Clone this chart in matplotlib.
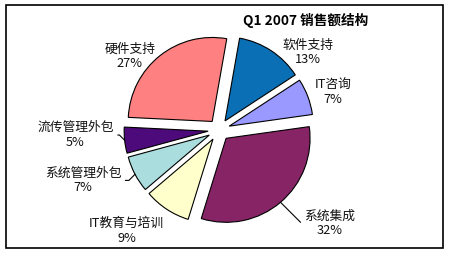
import matplotlib
matplotlib.use('Agg')
import matplotlib.pyplot as plt
import matplotlib.patches as mpatches
import numpy as np

plt.rcParams['font.family'] = ['Noto Sans CJK SC', 'DejaVu Sans']

# 数据
categories = ['软件支持', 'IT咨询', '系统集成', 'IT教育与培训', '系统管理外包', '流传管理外包', '硬件支持']
shares = [13, 7, 32, 9, 7, 5, 27]
colors = ['#0b6fb5', '#9999ff', '#862465', '#ffffcc', '#aadddd', '#4d0a7a', '#ff8080']
title = 'Q1 2007 销售额结构'

# 标签位置 (数据坐标, 半径 = 1) 和引导线角度
label_pos = [(1.06, 0.92), (1.36, 0.45), (1.32, -1.11), (-1.10, -1.20),
             (-1.62, -0.60), (-1.71, -0.06), (-1.06, 0.88)]
leader_angle = [None, None, -45, None, 45, -45, None]

explode = 0.13
r_px = 84.0
cx, cy = 219.0, 130.0

fig = plt.figure(figsize=(4.5, 2.56), dpi=100)
ax = fig.add_axes([0, 0, 1, 1])

wedges, _ = ax.pie(shares, colors=colors, startangle=80, counterclock=False,
                   explode=[explode] * len(shares), radius=1.0,
                   wedgeprops=dict(edgecolor='black', linewidth=0.8))

# pie() 会重设坐标范围, 所以之后再设
ax.set_xlim(-cx / r_px, (450 - cx) / r_px)
ax.set_ylim(-(256 - cy) / r_px, cy / r_px)
ax.set_aspect('equal')
ax.axis('off')

for w, name, val, pos, la in zip(wedges, categories, shares, label_pos, leader_angle):
    mid = np.deg2rad((w.theta1 + w.theta2) / 2)
    txt = f'{name}\n{val}%'
    if la is None:
        ax.text(pos[0], pos[1], txt, ha='center', va='center', fontsize=9.2,
                linespacing=1.15, color='#111111')
    else:
        k = 1 + explode
        xy = (k * np.cos(mid), k * np.sin(mid))
        ax.annotate(txt, xy=xy, xytext=pos, ha='center', va='center', fontsize=9.2,
                    linespacing=1.15, color='#111111',
                    arrowprops=dict(arrowstyle='-', color='black', lw=0.8,
                                    shrinkA=1, shrinkB=0,
                                    connectionstyle=f'angle,angleA=0,angleB={la},rad=0'))

fig.text(306 / 450, 1 - 20 / 256, title, ha='center', va='center',
         fontsize=9.8, fontweight='bold')

# 外框
fig.patches.append(mpatches.Rectangle((6 / 450, 8 / 256), 437 / 450, 243 / 256,
                                      transform=fig.transFigure, fill=False,
                                      edgecolor='black', linewidth=1.2))

fig.savefig('out.png', dpi=100, facecolor='white')
